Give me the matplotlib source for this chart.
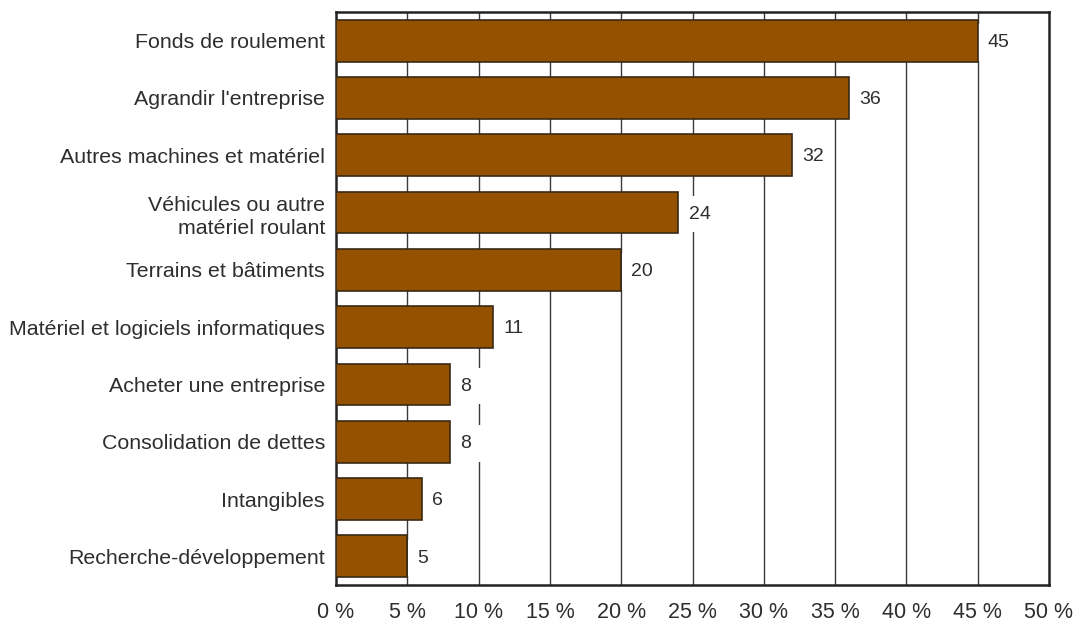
import numpy as np
import matplotlib.pyplot as plt

plt.rcParams['font.family'] = ['Liberation Sans', 'DejaVu Sans']

categories = [
    "Fonds de roulement",
    "Agrandir l'entreprise",
    "Autres machines et matériel",
    "Véhicules ou autre\nmatériel roulant",
    "Terrains et bâtiments",
    "Matériel et logiciels informatiques",
    "Acheter une entreprise",
    "Consolidation de dettes",
    "Intangibles",
    "Recherche-développement",
]
values = [45, 36, 32, 24, 20, 11, 8, 8, 6, 5]
xticks = [0, 5, 10, 15, 20, 25, 30, 35, 40, 45, 50]

bar_color = '#945200'
text_color = '#2e2e2e'

fig = plt.figure(figsize=(10.75, 6.22), dpi=100)
ax = fig.add_axes([0.3126, 0.0595, 0.6632, 0.9212])

y = np.arange(len(categories))
ax.barh(y, values, height=0.73, color=bar_color, edgecolor='#3b2a18',
        linewidth=1.2, zorder=3)

# vertical grid lines
for x in xticks[1:-1]:
    ax.axvline(x, color='#3a3a3a', linewidth=1.0, zorder=0.5)

# value labels with a white box that hides the grid behind them
for yi, v in zip(y, values):
    ax.text(v + 0.72, yi + 0.03, str(v), ha='left', va='center', fontsize=14,
            color=text_color, zorder=1,
            bbox=dict(facecolor='white', edgecolor='none', pad=7))

ax.set_xlim(0, 50)
ax.set_ylim(len(categories) - 0.5, -0.5)
ax.set_xticks(xticks)
ax.set_xticklabels([f'{t} %' for t in xticks], fontsize=15.5, color=text_color)
ax.set_yticks(y)
ax.set_yticklabels(categories, fontsize=15.4, color=text_color,
                   multialignment='right', linespacing=1.3)
ax.tick_params(axis='x', length=0, pad=12)
ax.tick_params(axis='y', length=0, pad=8)

for s in ax.spines.values():
    s.set_linewidth(1.8)
    s.set_color('#222222')

fig.savefig('out.png', dpi=100)
